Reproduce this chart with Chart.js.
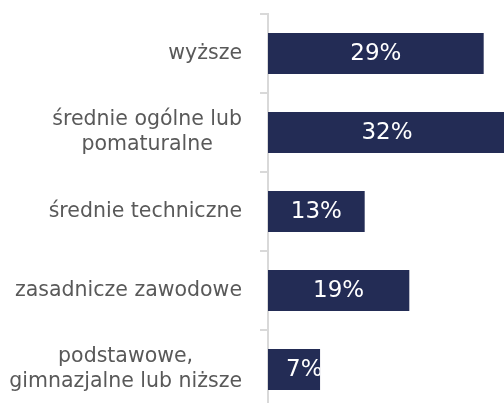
<!DOCTYPE html>
<html><head><meta charset="utf-8">
<script src="https://cdn.jsdelivr.net/npm/chart.js@4"></script>
<style>
html,body{margin:0;padding:0;background:#fff;overflow:hidden}
#wrap{position:relative;width:504px;height:403px;overflow:hidden;background:#fff}
canvas{display:block}
</style></head><body>
<div id="wrap"><canvas id="c" width="506" height="409" style="width:506px;height:409px"></canvas></div>
<script>
const categories = [["wyższe"], ["średnie ogólne lub", "pomaturalne"], ["średnie techniczne"], ["zasadnicze zawodowe"], ["podstawowe,", "gimnazjalne lub niższe"]];
const values = [29, 32, 13, 19, 7];
const valueLabels = ["29%", "32%", "13%", "19%", "7%"];
const xMin = 0;
const xMax = 32;

const barColor = '#232c55';
const axisColor = '#d9d9d9';
const catFont = '20.5px "DejaVu Sans"';
const valFont = '23px "DejaVu Sans"';

const labelsPlugin = {
  id: 'customLabels',
  afterDatasetsDraw(chart) {
    const ctx = chart.ctx;
    const meta = chart.getDatasetMeta(0);
    ctx.save();
    ctx.font = valFont;
    ctx.fillStyle = '#ffffff';
    ctx.textAlign = 'center';
    ctx.textBaseline = 'middle';
    meta.data.forEach((bar, i) => {
      const p = bar.getProps(['x', 'y', 'base', 'height'], true);
      const left = Math.min(p.base, p.x);
      const right = Math.min(Math.max(p.base, p.x), chart.chartArea.right);
      const txt = valueLabels[i];
      const w = ctx.measureText(txt).width;
      const cx = Math.max((left + right) / 2, left + 18 + w / 2);
      ctx.save();
      ctx.beginPath();
      ctx.rect(left, p.y - p.height / 2, right - left, p.height);
      ctx.clip();
      ctx.fillText(txt, cx, p.y + 1);
      ctx.restore();
    });
    ctx.restore();
  },
  afterDraw(chart) {
    const ctx = chart.ctx;
    const yScale = chart.scales.y;
    const rightEdge = chart.chartArea.left - 26;
    const lh = 25;
    ctx.save();
    ctx.font = catFont;
    ctx.fillStyle = '#595959';
    ctx.textAlign = 'center';
    ctx.textBaseline = 'middle';
    categories.forEach((lines, i) => {
      const yc = yScale.getPixelForValue(i);
      const bw = Math.max(...lines.map(l => ctx.measureText(l).width));
      const cx = rightEdge - bw / 2;
      const y0 = yc - (lines.length - 1) * lh / 2;
      lines.forEach((l, k) => ctx.fillText(l, cx, y0 + k * lh));
    });
    ctx.restore();
  }
};

new Chart(document.getElementById('c'), {
  type: 'bar',
  data: {
    labels: categories,
    datasets: [{
      data: values,
      backgroundColor: barColor,
      borderWidth: 0,
      barPercentage: 0.52,
      categoryPercentage: 1
    }]
  },
  options: {
    indexAxis: 'y',
    responsive: false,
    animation: false,
    layout: { padding: { left: 260, top: 14, right: 0, bottom: 0 } },
    plugins: { legend: { display: false }, tooltip: { enabled: false } },
    scales: {
      x: { display: false, min: xMin, max: xMax },
      y: {
        offset: true,
        ticks: { display: false },
        grid: { drawOnChartArea: false, drawTicks: true, tickLength: 8, color: axisColor, lineWidth: 2, offset: true },
        border: { display: true, color: axisColor, width: 2 }
      }
    }
  },
  plugins: [labelsPlugin]
});
</script>
</body></html>
